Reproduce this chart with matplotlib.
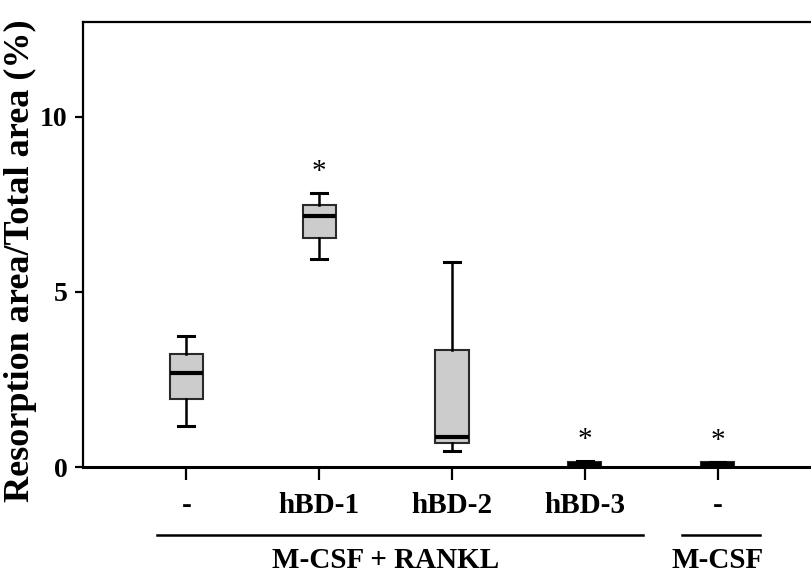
import matplotlib.pyplot as plt

# Data
labels = ["-", "hBD-1", "hBD-2", "hBD-3", "-"]
whislo = [1.17, 5.94, 0.46, 0.02, 0.02]
q1 = [1.94, 6.54, 0.68, 0.04, 0.04]
med = [2.69, 7.17, 0.86, 0.10, 0.09]
q3 = [3.23, 7.49, 3.34, 0.15, 0.13]
whishi = [3.74, 7.83, 5.86, 0.17, 0.15]
significant = [False, True, False, True, True]
group_names = ["M-CSF + RANKL", "M-CSF"]
group_members = [[1, 2, 3, 4], [5]]

positions = list(range(1, len(labels) + 1))
stats = [
    {"whislo": lo, "q1": a, "med": m, "q3": b, "whishi": hi, "fliers": []}
    for lo, a, m, b, hi in zip(whislo, q1, med, q3, whishi)
]

plt.rcParams["font.family"] = ["Liberation Serif", "DejaVu Serif"]

fig = plt.figure(figsize=(8.11, 5.78), dpi=100)
ax = fig.add_axes([0.1023, 0.192, 0.8977, 0.7699])

ax.bxp(stats,
       positions=positions,
       widths=0.25,
       patch_artist=True,
       showfliers=False,
       boxprops=dict(facecolor="#cccccc", edgecolor="#2a2a2a", linewidth=1.5),
       medianprops=dict(color="black", linewidth=3),
       whiskerprops=dict(color="black", linewidth=1.8),
       capprops=dict(color="black", linewidth=2.2),
       capwidths=0.12)

# Significance stars
for p, top, sig in zip(positions, whishi, significant):
    if sig:
        ax.annotate("*", xy=(p, top), xytext=(0, 15), textcoords="offset points",
                    ha="center", va="center", fontsize=21)

# Axes styling
ax.set_xlim(0.2206, 5.704)
ax.set_ylim(0, 12.71)
ax.set_yticks([0, 5, 10])
ax.set_xticks(positions)
ax.set_xticklabels(labels)
ax.spines["right"].set_visible(False)
for side in ["left", "top"]:
    ax.spines[side].set_linewidth(1.6)
ax.spines["bottom"].set_linewidth(2.2)
ax.tick_params(axis="y", length=6, width=1.6, pad=5, labelsize=20)
ax.tick_params(axis="x", length=9, width=1.6, pad=9, labelsize=21)
for t in ax.get_xticklabels() + ax.get_yticklabels():
    t.set_fontweight("bold")

ax.set_ylabel("Resorption area/Total area (%)", fontsize=26, fontweight="bold")
ax.yaxis.set_label_coords(-0.063, 0.463)

# Group brackets under the tick labels
trans = ax.get_xaxis_transform()
pads = [(0.22, 0.44), (0.27, 0.32)]
for name, members, (lp, rp) in zip(group_names, group_members, pads):
    x0, x1 = min(members) - lp, max(members) + rp
    ax.plot([x0, x1], [-0.153, -0.153], color="black", linewidth=1.8,
            transform=trans, clip_on=False)
    ax.text(sum(members) / len(members), -0.21, name, transform=trans,
            ha="center", va="center", fontsize=21, fontweight="bold")

fig.savefig("out.png", dpi=100)
